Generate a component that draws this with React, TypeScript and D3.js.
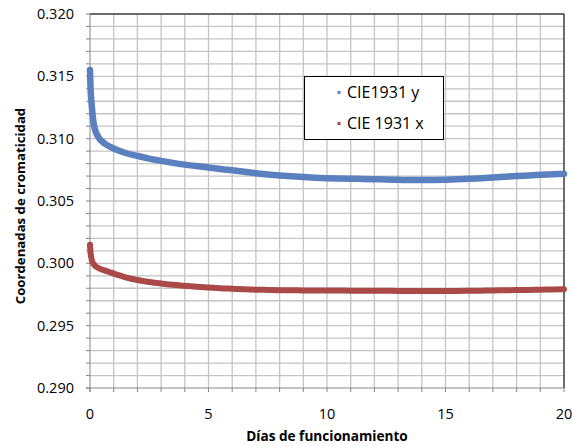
import React from "react";
import * as d3 from "d3";

// days of operation (x values)
const days = [0, 0.02, 0.05, 0.1, 0.15, 0.2, 0.3, 0.4, 0.5, 0.7, 0.9, 1.2, 1.5, 2, 2.5, 3, 3.5, 4, 4.5, 5,
  5.5, 6, 6.5, 7, 7.5, 8, 8.5, 9, 9.5, 10, 10.5, 11, 11.5, 12, 12.5, 13, 13.5, 14, 14.5, 15,
  15.5, 16, 16.5, 17, 17.5, 18, 18.5, 19, 19.5, 20];

// CIE1931 y
const cieY = [0.3155, 0.3142, 0.3132, 0.3121, 0.3113, 0.3108, 0.3103, 0.31, 0.3098, 0.3095, 0.3093, 0.30905, 0.30885, 0.30862, 0.3084, 0.30822, 0.30806, 0.30792, 0.3078, 0.30768,
  0.30757, 0.30746, 0.30734, 0.30722, 0.30713, 0.30705, 0.30698, 0.30692, 0.30687, 0.30683, 0.3068, 0.30678, 0.30677, 0.30675, 0.30672, 0.3067, 0.30668, 0.30668, 0.30669, 0.30671,
  0.30674, 0.30678, 0.30683, 0.30688, 0.30694, 0.307, 0.30705, 0.3071, 0.30714, 0.30718];

// CIE 1931 x
const cieX = [0.3015, 0.3009, 0.3005, 0.3001, 0.29995, 0.29982, 0.29968, 0.29958, 0.2995, 0.29938, 0.29925, 0.29905, 0.29888, 0.29866, 0.2985, 0.29838, 0.29828, 0.2982, 0.29812, 0.29806,
  0.298, 0.29796, 0.29792, 0.29789, 0.29787, 0.29785, 0.29784, 0.29783, 0.29782, 0.29782, 0.29782, 0.29781, 0.29781, 0.2978, 0.2978, 0.29779, 0.29779, 0.29778, 0.29778, 0.29779,
  0.29779, 0.2978, 0.29781, 0.29782, 0.29784, 0.29786, 0.29787, 0.29789, 0.2979, 0.29792];

const xTicks = [0, 5, 10, 15, 20];
const yTicks = [0.29, 0.295, 0.3, 0.305, 0.31, 0.315, 0.32];

const seriesNames = ["CIE1931 y", "CIE 1931 x"];
const seriesColors = ["#5b80c0", "#aa4a48"];

const W = 572;
const H = 446;
const font = "'Open Sans', sans-serif";

export default function App() {
  const x = d3.scaleLinear().domain([0, 20]).range([90, 564]);
  const y = d3.scaleLinear().domain([0.29, 0.32]).range([388, 14]);

  const line = d3
    .line<number>()
    .x((_, i) => x(days[i]))
    .y((d) => y(d))
    .curve(d3.curveMonotoneX);

  const minorX = d3.range(0, 21, 1);
  const minorY = d3.range(0, 31).map((i) => 0.29 + i * 0.001);

  return (
    <div style={{ position: "absolute", left: 0, top: 0 }}>
      <svg width={W} height={H} style={{ display: "block", background: "#fff" }}>
        {/* grid */}
        <g stroke="#c4c4c4" strokeWidth={1.3}>
          {minorX.slice(1).map((d) => (
            <line key={"gx" + d} x1={x(d)} x2={x(d)} y1={y(0.32)} y2={y(0.29)} />
          ))}
          {minorY.slice(1).map((d, i) => (
            <line key={"gy" + i} x1={x(0)} x2={x(20)} y1={y(d)} y2={y(d)} />
          ))}
        </g>
        {/* plot border top/right */}
        <line x1={x(0)} x2={x(20)} y1={y(0.32)} y2={y(0.32)} stroke="#000" strokeWidth={1} />
        <line x1={x(20)} x2={x(20)} y1={y(0.32)} y2={y(0.29)} stroke="#000" strokeWidth={1} />

        {/* axes */}
        <g stroke="#868686" strokeWidth={1}>
          <line x1={x(0)} x2={x(0)} y1={y(0.32)} y2={y(0.29) + 4} />
          <line x1={x(0) - 4} x2={x(20)} y1={y(0.29)} y2={y(0.29)} />
          {minorY.map((d, i) => (
            <line key={"ty" + i} x1={x(0) - 4} x2={x(0)} y1={y(d)} y2={y(d)} />
          ))}
          {minorX.map((d) => (
            <line key={"tx" + d} x1={x(d)} x2={x(d)} y1={y(0.29)} y2={y(0.29) + 4} />
          ))}
        </g>

        {/* series */}
        <path d={line(cieY) || ""} fill="none" stroke={seriesColors[0]} strokeWidth={6.5} strokeLinejoin="round" strokeLinecap="round" />
        <path d={line(cieX) || ""} fill="none" stroke={seriesColors[1]} strokeWidth={6} strokeLinejoin="round" strokeLinecap="round" />

        {/* tick labels */}
        <g fontFamily={font} fontSize={14.5} fill="#000">
          {yTicks.map((d) => (
            <text key={"ly" + d} x={74} y={y(d)} dy="0.35em" textAnchor="end">
              {d.toFixed(3)}
            </text>
          ))}
          {xTicks.map((d) => (
            <text key={"lx" + d} x={x(d)} y={419} textAnchor="middle">
              {d}
            </text>
          ))}
        </g>

        {/* axis titles */}
        <text x={(x(0) + x(20)) / 2} y={441} textAnchor="middle" fontFamily={font} fontWeight="bold" fontSize={13.6}>
          Días de funcionamiento
        </text>
        <text
          transform={`translate(25,${206}) rotate(-90)`}
          textAnchor="middle"
          fontFamily={font}
          fontWeight="bold"
          fontSize={13.2}
        >
          Coordenadas de cromaticidad
        </text>

        {/* legend */}
        <g>
          <rect x={304.5} y={76.5} width={139} height={63} fill="#fff" stroke="#000" strokeWidth={1} />
          {seriesNames.map((n, i) => (
            <g key={n}>
              <rect x={337.5} y={91 + i * 31} width={3} height={3} fill={seriesColors[i]} />
              <text x={347} y={98 + i * 31} fontFamily={font} fontSize={16} fill="#000">
                {n}
              </text>
            </g>
          ))}
        </g>
      </svg>
    </div>
  );
}
